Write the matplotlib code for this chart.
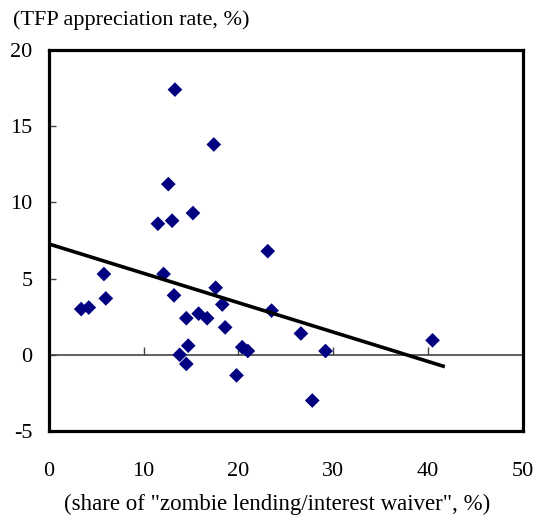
import numpy as np
import matplotlib.pyplot as plt

# share of "zombie lending / interest waiver" (%) and TFP appreciation rate (%)
zombie_share = [3.4, 4.2, 5.8, 6.0, 11.5, 12.1, 12.6, 13.0, 13.2, 13.3,
                13.8, 14.5, 14.5, 14.7, 15.2, 15.8, 16.7, 17.4, 17.6, 18.3,
                18.6, 19.8, 20.4, 21.0, 23.1, 23.5, 26.6, 27.8, 29.2, 40.5]
tfp_rate = [3.0, 3.1, 5.3, 3.7, 8.6, 5.3, 11.2, 8.8, 3.9, 17.4,
            0.0, -0.6, 2.4, 0.6, 9.3, 2.7, 2.4, 13.8, 4.4, 3.3,
            1.8, -1.35, 0.5, 0.25, 6.8, 2.9, 1.4, -3.0, 0.25, 0.95]

# fitted trend line
trend_x = [0, 41.8]
trend_y = [7.27, -0.78]

x_ticks = [0, 10, 20, 30, 40, 50]
y_ticks = [-5, 0, 5, 10, 15, 20]

plt.rcParams['font.family'] = ['Liberation Serif', 'DejaVu Serif']
plt.rcParams['axes.unicode_minus'] = False

W, H = 539, 517
fig = plt.figure(figsize=(W / 100, H / 100), dpi=100)
ax = fig.add_axes([49 / W, 1 - 431 / H, 473.5 / W, 381 / H])

ax.set_xlim(0, 50)
ax.set_ylim(-5, 20)

# zero line with upward ticks
zax = ax.secondary_xaxis(5 / 25)
zax.set_xticks(x_ticks)
zax.tick_params(axis='x', direction='in', length=6, width=1, color='#444444',
                labelbottom=False)
zax.spines['bottom'].set_color('#444444')
zax.spines['bottom'].set_linewidth(1.2)

ax.scatter(zombie_share, tfp_rate, marker='D', s=56, color='#000080',
           edgecolors='none', zorder=3)
ax.plot(trend_x, trend_y, color='black', linewidth=2.6, zorder=4,
        solid_capstyle='butt')

ax.set_xticks(x_ticks)
ax.set_yticks(y_ticks)
ax.tick_params(axis='x', length=0, pad=22, labelsize=16)
ax.tick_params(axis='y', direction='in', length=5, width=1, color='#444444',
               pad=12, labelsize=16)
for sp in ax.spines.values():
    sp.set_linewidth(2.3)
    sp.set_color('black')
    sp.set_zorder(5)

fig.text(13 / W, 1 - 25 / H, '(TFP appreciation rate, %)', fontsize=16,
         ha='left', va='baseline')
fig.text(277 / W, 1 - 510 / H,
         '(share of "zombie lending/interest waiver", %)', fontsize=16.5,
         ha='center', va='baseline')

fig.savefig('out.png', dpi=100)
